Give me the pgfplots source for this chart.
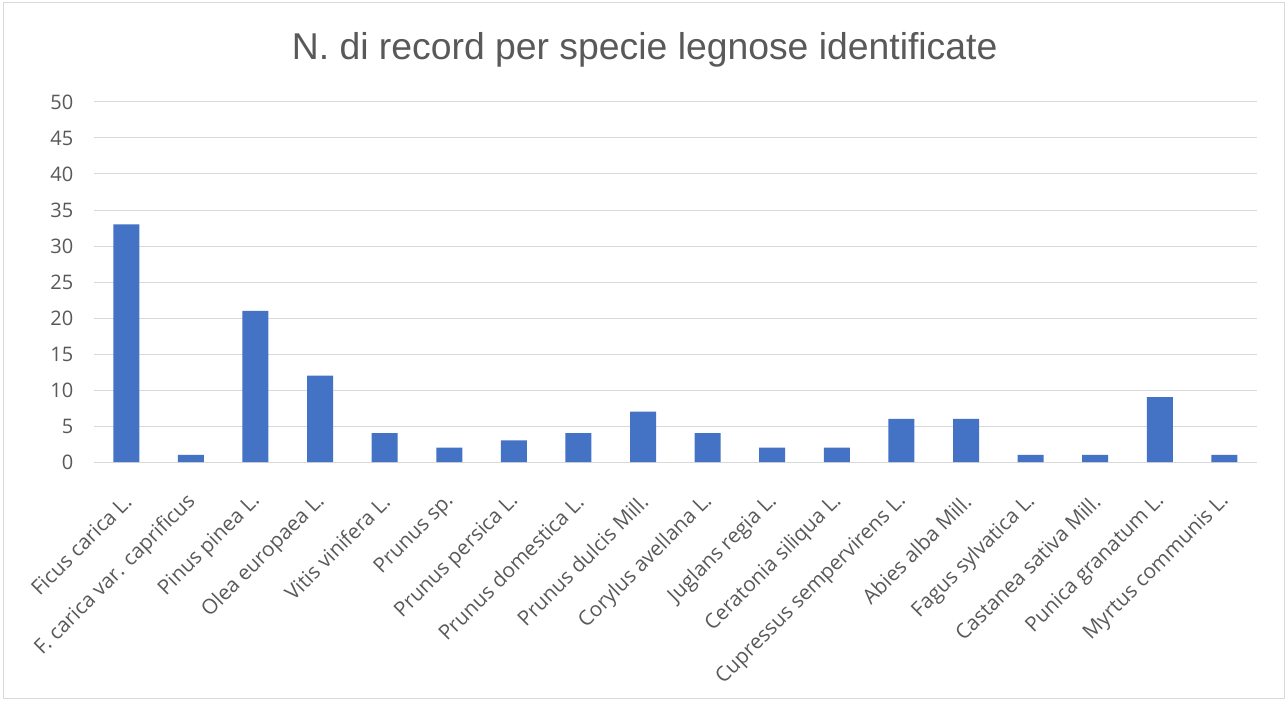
\documentclass[border=0pt]{standalone}
\usepackage{pgfplots}
\pgfplotsset{compat=1.18}
\usepackage{fontspec}
\setmainfont{Liberation Sans}
\newfontfamily\tickfont{Open Sans}
\definecolor{barblue}{HTML}{4472C4}
\definecolor{gridgray}{HTML}{D9D9D9}
\definecolor{txtgray}{HTML}{595959}
\begin{document}
\begin{tikzpicture}
\fill[white] (-70.5pt,-180pt) rectangle (894.75pt,346.5pt);
\draw[gridgray, line width=0.75pt] (-67.5pt,-177pt) rectangle (893pt,344.5pt);
\begin{axis}[
  at={(0pt,0pt)}, anchor=south west,
  scale only axis, width=872pt, height=270pt,
  xmin=-0.5, xmax=17.5, ymin=0, ymax=50,
  ytick={0,5,...,50},
  xtick={0,...,17},
  xticklabels={Ficus carica L., F. carica var. caprificus, Pinus pinea L., Olea europaea L., Vitis vinifera L., Prunus sp., Prunus persica L., Prunus domestica L., Prunus dulcis Mill., Corylus avellana L., Juglans regia L., Ceratonia siliqua L., Cupressus sempervirens L., Abies alba Mill., Fagus sylvatica L., Castanea sativa Mill., Punica granatum L., Myrtus communis L.},
  axis x line*=bottom, axis y line*=left,
  x axis line style={gridgray, line width=0.75pt, -},
  y axis line style={draw=none},
  major tick length=0pt,
  ymajorgrids, grid style={gridgray, line width=0.75pt},
  /pgf/number format/assume math mode=true,
  tick label style={text=txtgray},
  yticklabel style={font=\tickfont\fontsize{15}{17}\selectfont, anchor=east, xshift=-12pt},
  xticklabel style={font=\tickfont\fontsize{15.5}{17}\selectfont, rotate=45, anchor=east, xshift=-15pt, yshift=-20pt},
  every tick/.style={draw=none},
  clip=false,
]
\addplot[ybar, bar width=19.5pt, fill=barblue, draw=none] coordinates {
(0,33) (1,1) (2,21) (3,12) (4,4) (5,2) (6,3) (7,4) (8,7) (9,4) (10,2) (11,2) (12,6) (13,6) (14,1) (15,1) (16,9) (17,1)
};
\end{axis}
\node[text=txtgray, font=\fontsize{28}{32}\selectfont] at (413pt,309pt) {N. di record per specie legnose identificate};
\end{tikzpicture}
\end{document}
